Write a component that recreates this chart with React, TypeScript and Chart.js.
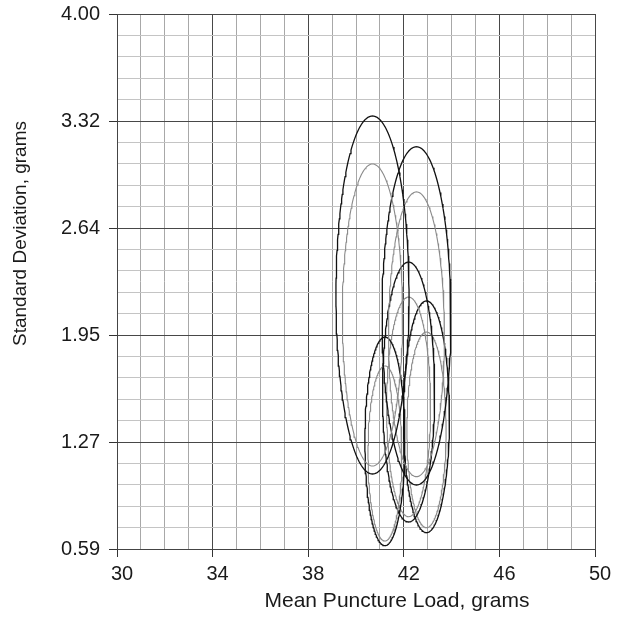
import React, { useEffect, useRef } from 'react';
import { Chart, registerables } from 'chart.js';

Chart.register(...registerables);

// Axis ranges and tick labels
const X_MIN = 30;
const X_MAX = 50;
const xTickLabels = [30, 34, 38, 42, 46, 50];
const Y_MIN = 0.59;
const Y_MAX = 4.0;
const yTickLabels = ['0.59', '1.27', '1.95', '2.64', '3.32', '4.00'];
const yMinorPerMajor = 5;

const X_TITLE = 'Mean Puncture Load, grams';
const Y_TITLE = 'Standard Deviation, grams';

// Confidence regions (center mean load, extents of standard deviation, half width in mean load)
const meanLoad = [40.69, 42.53, 41.21, 42.2, 42.95];
const outerTop = [3.35, 3.154, 1.941, 2.419, 2.171];
const outerBottom = [1.068, 0.998, 0.611, 0.762, 0.694];
const outerHalfWidth = [1.53, 1.44, 0.84, 1.09, 0.96];
const innerTop = [3.044, 2.866, 1.757, 2.196, 1.973];
const innerBottom = [1.119, 1.051, 0.641, 0.796, 0.726];
const innerHalfWidth = [1.26, 1.17, 0.71, 0.92, 0.82];

const FONT = '"Liberation Sans", Arial, Helvetica, sans-serif';

function outline(cx: number, top: number, bottom: number, hw: number) {
  const cy = (top + bottom) / 2;
  const ry = (top - bottom) / 2;
  const pts: { x: number; y: number }[] = [];
  const n = 200;
  for (let i = 0; i <= n; i++) {
    const t = (i / n) * 2 * Math.PI;
    pts.push({ x: cx + hw * Math.sin(t), y: cy + ry * Math.cos(t) });
  }
  return pts;
}

const titlePlugin = {
  id: 'axisTitles',
  afterDraw(chart: any) {
    const { ctx, chartArea } = chart;
    ctx.save();
    ctx.fillStyle = '#1a1a1a';
    ctx.textAlign = 'center';
    ctx.textBaseline = 'alphabetic';
    ctx.font = `21px ${FONT}`;
    ctx.fillText(X_TITLE, chartArea.left + chartArea.width / 2 + 41, 607);
    ctx.translate(26, chartArea.top + chartArea.height / 2 - 48);
    ctx.rotate(-Math.PI / 2);
    ctx.font = `19px ${FONT}`;
    ctx.fillText(Y_TITLE, 0, 0);
    ctx.restore();
  },
};

export default function App() {
  const ref = useRef<HTMLCanvasElement | null>(null);

  useEffect(() => {
    if (!ref.current) return;
    const datasets: any[] = [];
    meanLoad.forEach((cx, i) => {
      datasets.push({
        label: `outer ${i}`,
        data: outline(cx, outerTop[i], outerBottom[i], outerHalfWidth[i]),
        borderColor: '#111111',
        borderWidth: 1.3,
      });
      datasets.push({
        label: `inner ${i}`,
        data: outline(cx, innerTop[i], innerBottom[i], innerHalfWidth[i]),
        borderColor: '#8a8a8a',
        borderWidth: 1.1,
      });
    });
    datasets.forEach((d) => {
      d.showLine = true;
      d.pointRadius = 0;
      d.pointHoverRadius = 0;
      d.fill = false;
      d.tension = 0;
    });

    const yStep = (Y_MAX - Y_MIN) / ((yTickLabels.length - 1) * yMinorPerMajor);
    const yGrid: number[] = [];
    for (let i = 0; i <= (yTickLabels.length - 1) * yMinorPerMajor; i++) yGrid.push(Y_MIN + i * yStep);

    const chart = new Chart(ref.current, {
      type: 'scatter',
      data: { datasets },
      plugins: [titlePlugin],
      options: {
        animation: false,
        responsive: false,
        layout: { padding: { left: 0, right: 28, top: 14, bottom: 0 } },
        plugins: { legend: { display: false }, tooltip: { enabled: false } },
        scales: {
          x: {
            type: 'linear',
            min: X_MIN,
            max: X_MAX,
            afterFit: (s: any) => {
              s.height = 68;
              s.paddingLeft = 0;
              s.paddingRight = 0;
            },
            border: { color: '#444', width: 1 },
            grid: {
              color: (c: any) => ((c.tick.value - X_MIN) % 4 === 0 ? '#484848' : '#a8a8a8'),
              lineWidth: 1,
              tickLength: 8,
              tickColor: (c: any) =>
                c.tick && (c.tick.value - X_MIN) % 4 === 0 ? '#333' : 'rgba(0,0,0,0)',
            },
            ticks: {
              stepSize: 1,
              autoSkip: false,
              maxRotation: 0,
              padding: 5,
              labelOffset: 5,
              color: '#1a1a1a',
              font: { family: FONT, size: 20 },
              callback: (v: any) => (xTickLabels.includes(Number(v)) ? String(v) : ''),
            },
          },
          y: {
            type: 'linear',
            min: Y_MIN,
            max: Y_MAX,
            afterFit: (s: any) => {
              s.width = 117;
              s.paddingTop = 0;
              s.paddingBottom = 0;
            },
            afterBuildTicks: (s: any) => {
              s.ticks = yGrid.map((v) => ({ value: v }));
            },
            border: { color: '#444', width: 1 },
            grid: {
              color: (c: any) => (c.index % yMinorPerMajor === 0 ? '#484848' : '#c4c4c4'),
              lineWidth: 1,
              tickLength: 8,
              tickColor: (c: any) => (c.index % yMinorPerMajor === 0 ? '#333' : 'rgba(0,0,0,0)'),
            },
            ticks: {
              autoSkip: false,
              padding: 9,
              color: '#1a1a1a',
              font: { family: FONT, size: 20 },
              callback: (_v: any, idx: number) =>
                idx % yMinorPerMajor === 0 ? yTickLabels[idx / yMinorPerMajor] : '',
            },
          },
        },
      },
    });
    return () => chart.destroy();
  }, []);

  return (
    <div style={{ position: 'fixed', left: 0, top: 0, width: 623, height: 617, background: '#fff' }}>
      <canvas ref={ref} width={623} height={617} style={{ display: 'block' }} />
    </div>
  );
}
